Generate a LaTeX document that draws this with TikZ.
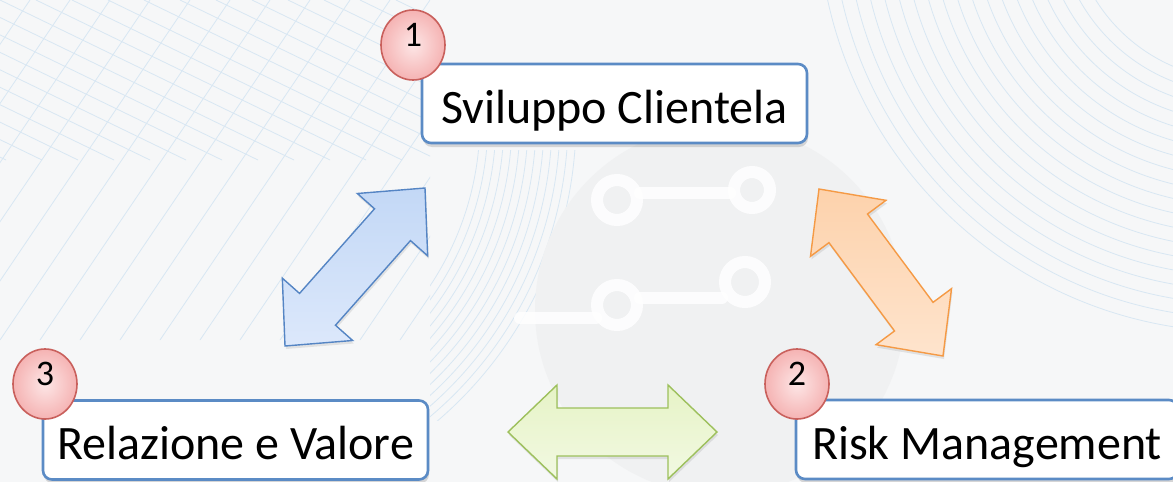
\documentclass[tikz,border=0pt]{standalone}
\usepackage{fontspec}
\setmainfont{Carlito}
\usetikzlibrary{calc,shapes.geometric,shadows}

\definecolor{paper}{HTML}{F6F7F8}
\definecolor{webline}{HTML}{D8E7F3}
\definecolor{dropgray}{HTML}{F0F1F2}
\definecolor{frameblue}{HTML}{5B8BC5}
\definecolor{badgeedge}{HTML}{C9605C}
\definecolor{badgein}{HTML}{FDE6E6}
\definecolor{badgeout}{HTML}{F5B3B3}
\definecolor{blueedge}{HTML}{5585C4}
\definecolor{bluetop}{HTML}{C3D8F6}
\definecolor{bluebot}{HTML}{DCE8FB}
\definecolor{orangeedge}{HTML}{F59A45}
\definecolor{orangetop}{HTML}{FDD2AC}
\definecolor{orangebot}{HTML}{FEE4CD}
\definecolor{greenedge}{HTML}{9DC05C}
\definecolor{greentop}{HTML}{E6F3C6}
\definecolor{greenbot}{HTML}{F2F9E2}

% double-headed block arrow between two named tips
\newcommand\dblarrow[3]{%
  \draw[#1] (#2)
    -- ($(#2)!49pt!(#3)!47pt!90:(#3)$)
    -- ($(#2)!49pt!(#3)!24pt!90:(#3)$)
    -- ($(#3)!49pt!(#2)!24pt!-90:(#2)$)
    -- ($(#3)!49pt!(#2)!47pt!-90:(#2)$)
    -- (#3)
    -- ($(#3)!49pt!(#2)!47pt!90:(#2)$)
    -- ($(#3)!49pt!(#2)!24pt!90:(#2)$)
    -- ($(#2)!49pt!(#3)!24pt!-90:(#3)$)
    -- ($(#2)!49pt!(#3)!47pt!-90:(#3)$)
    -- cycle;}

\begin{document}
\begin{tikzpicture}[x=1pt,y=-1pt,
  bgline/.style={draw=webline,line width=0.8pt},
  trace/.style={draw=white,line width=12pt,line cap=round,opacity=0.85},
  stage/.style={draw=frameblue,line width=2.6pt,fill=white,rounded corners=9pt,
    minimum height=79pt,inner sep=0pt,text height=39pt,text depth=0pt,
    font=\fontsize{48}{58}\selectfont,
    drop shadow={shadow xshift=1pt,shadow yshift=-4pt,opacity=0.28}},
  badge/.style={ellipse,draw=badgeedge,line width=1.6pt,inner color=badgein,outer color=badgeout,
    minimum width=64pt,minimum height=70pt,inner sep=0pt,text height=13pt,text depth=11pt,
    font=\fontsize{36}{43}\selectfont},
  bluearrow/.style={draw=blueedge,line width=1.4pt,top color=bluetop,bottom color=bluebot,line join=miter,
    drop shadow={shadow xshift=1pt,shadow yshift=-3pt,opacity=0.18}},
  orangearrow/.style={draw=orangeedge,line width=1.4pt,top color=orangetop,bottom color=orangebot,line join=miter,
    drop shadow={shadow xshift=1pt,shadow yshift=-3pt,opacity=0.18}},
  greenarrow/.style={draw=greenedge,line width=1.4pt,top color=greentop,bottom color=greenbot,line join=miter,
    drop shadow={shadow xshift=1pt,shadow yshift=-3pt,opacity=0.18}}]

\useasboundingbox (0,0) rectangle (1173,482);
\fill[paper] (0,0) rectangle (1173,482);

% faint mesh in the upper left
\begin{scope}
  \clip (0,0) rectangle (430,340);
  \foreach \k in {-10,...,14} {
    \draw[bgline] (\k*36,0) -- ++(330,160);
    \draw[bgline] (\k*40,340) -- ++(230,-340);
  }
\end{scope}

% sweeping arcs on the right
\begin{scope}
  \clip (770,0) rectangle (1173,400);
  \foreach \r in {170,184,...,430} \draw[bgline] (1240,-90) circle (\r pt);
\end{scope}

% fan of arcs left of the centre
\begin{scope}
  \clip (430,150) rectangle (640,420);
  \foreach \r in {300,308,...,400} \draw[bgline] (180,120) circle (\r pt);
\end{scope}

% pale drop with circuit traces
\fill[dropgray] (720,310) circle (185pt);
\draw[trace] (617,200) circle (20pt);
\draw[trace] (640,193) -- (730,193);
\draw[trace] (752,190) circle (18pt);
\draw[trace] (617,305) circle (20pt);
\draw[trace] (520,318) -- (596,318);
\draw[trace] (640,298) -- (722,298);
\draw[trace] (745,282) circle (20pt);

% the three stages
\node[stage,minimum width=385pt] (client) at (614.5,103.5) {Sviluppo Clientela};
\node[stage,minimum width=385pt] (value)  at (235.5,440)   {Relazione e Valore};
\node[stage,minimum width=382pt] (risk)   at (987,439.5)   {Risk Management};

% numbered badges
\node[badge] (b1) at (413,45)  {1};
\node[badge] (b3) at (45,384)  {3};
\node[badge] (b2) at (797,384) {2};

% tips of the block arrows
\coordinate (blueA)   at (285,346);
\coordinate (blueB)   at (425,188);
\coordinate (orangeA) at (819,189);
\coordinate (orangeB) at (943,356);
\coordinate (greenA)  at (508,432);
\coordinate (greenB)  at (717,432);

\dblarrow{bluearrow}{blueA}{blueB}
\dblarrow{orangearrow}{orangeA}{orangeB}
\dblarrow{greenarrow}{greenA}{greenB}

\end{tikzpicture}
\end{document}
